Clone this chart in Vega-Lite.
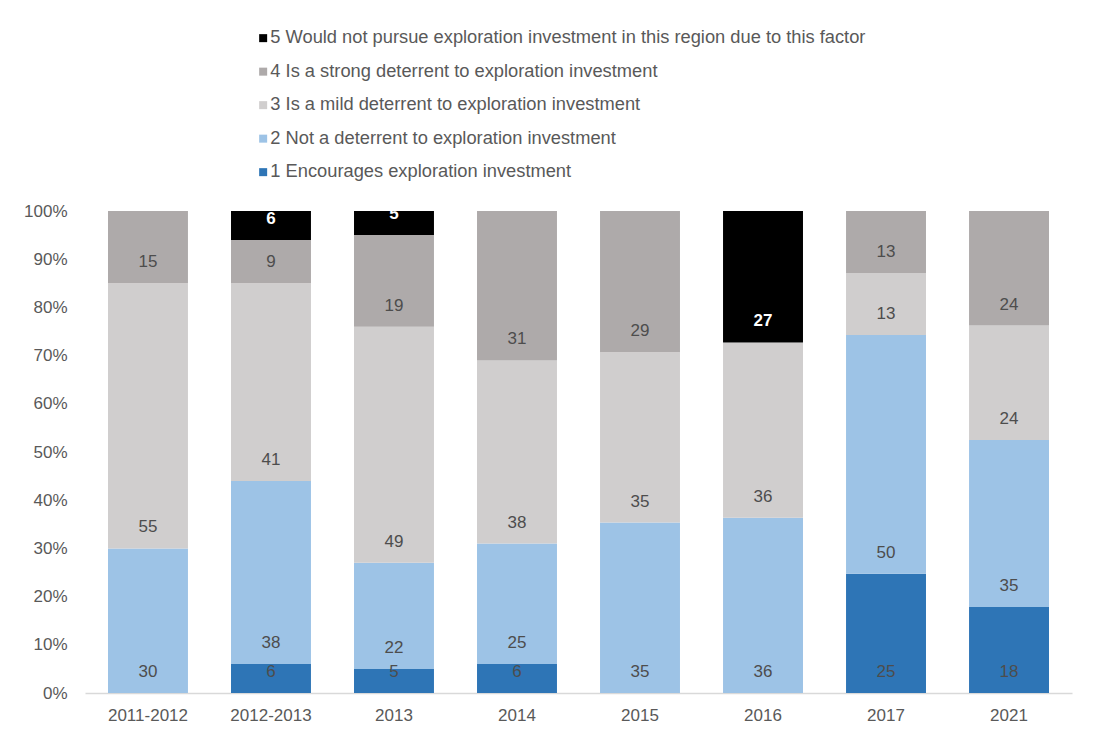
{
  "$schema": "https://vega.github.io/schema/vega-lite/v6.json",
  "width": 987,
  "height": 482,
  "autosize": {"type": "none"},
  "padding": {"left": 85, "top": 211, "right": 35, "bottom": 40},
  "background": "white",
  "config": {"view": {"stroke": null}, "font": "Liberation Sans"},
  "data": {"values": [
    {"year": "2011-2012", "category": "2 Not a deterrent to exploration investment", "value": 30},
    {"year": "2011-2012", "category": "3 Is a mild deterrent to exploration investment", "value": 55},
    {"year": "2011-2012", "category": "4 Is a strong deterrent to exploration investment", "value": 15},
    {"year": "2012-2013", "category": "1 Encourages exploration investment", "value": 6},
    {"year": "2012-2013", "category": "2 Not a deterrent to exploration investment", "value": 38},
    {"year": "2012-2013", "category": "3 Is a mild deterrent to exploration investment", "value": 41},
    {"year": "2012-2013", "category": "4 Is a strong deterrent to exploration investment", "value": 9},
    {"year": "2012-2013", "category": "5 Would not pursue exploration investment in this region due to this factor", "value": 6},
    {"year": "2013", "category": "1 Encourages exploration investment", "value": 5},
    {"year": "2013", "category": "2 Not a deterrent to exploration investment", "value": 22},
    {"year": "2013", "category": "3 Is a mild deterrent to exploration investment", "value": 49},
    {"year": "2013", "category": "4 Is a strong deterrent to exploration investment", "value": 19},
    {"year": "2013", "category": "5 Would not pursue exploration investment in this region due to this factor", "value": 5},
    {"year": "2014", "category": "1 Encourages exploration investment", "value": 6},
    {"year": "2014", "category": "2 Not a deterrent to exploration investment", "value": 25},
    {"year": "2014", "category": "3 Is a mild deterrent to exploration investment", "value": 38},
    {"year": "2014", "category": "4 Is a strong deterrent to exploration investment", "value": 31},
    {"year": "2015", "category": "2 Not a deterrent to exploration investment", "value": 35},
    {"year": "2015", "category": "3 Is a mild deterrent to exploration investment", "value": 35},
    {"year": "2015", "category": "4 Is a strong deterrent to exploration investment", "value": 29},
    {"year": "2016", "category": "2 Not a deterrent to exploration investment", "value": 36},
    {"year": "2016", "category": "3 Is a mild deterrent to exploration investment", "value": 36},
    {"year": "2016", "category": "5 Would not pursue exploration investment in this region due to this factor", "value": 27},
    {"year": "2017", "category": "1 Encourages exploration investment", "value": 25},
    {"year": "2017", "category": "2 Not a deterrent to exploration investment", "value": 50},
    {"year": "2017", "category": "3 Is a mild deterrent to exploration investment", "value": 13},
    {"year": "2017", "category": "4 Is a strong deterrent to exploration investment", "value": 13},
    {"year": "2021", "category": "1 Encourages exploration investment", "value": 18},
    {"year": "2021", "category": "2 Not a deterrent to exploration investment", "value": 35},
    {"year": "2021", "category": "3 Is a mild deterrent to exploration investment", "value": 24},
    {"year": "2021", "category": "4 Is a strong deterrent to exploration investment", "value": 24}
  ]},
  "transform": [
    {"stack": "value", "groupby": ["year"], "sort": [{"field": "category", "order": "ascending"}], "as": ["y0", "y1"], "offset": "normalize"}
  ],
  "encoding": {
    "x": {
      "field": "year", "type": "nominal",
      "sort": ["2011-2012", "2012-2013", "2013", "2014", "2015", "2016", "2017", "2021"],
      "scale": {"paddingInner": 0.35, "paddingOuter": 0.187},
      "axis": {"title": null, "labelAngle": 0, "ticks": false, "domainColor": "#d9d9d9", "domainWidth": 1.5, "labelFontSize": 17, "labelColor": "#595959", "labelPadding": 14}
    }
  },
  "layer": [
    {
      "mark": {"type": "bar"},
      "encoding": {
        "y": {
          "field": "y0", "type": "quantitative",
          "scale": {"domain": [0, 1], "nice": false},
          "axis": {"title": null, "format": ".0%", "values": [0, 0.1, 0.2, 0.3, 0.4, 0.5, 0.6, 0.7, 0.8, 0.9, 1], "grid": false, "domain": false, "ticks": false, "labelFontSize": 17, "labelColor": "#595959", "labelPadding": 18}
        },
        "y2": {"field": "y1"},
        "color": {
          "field": "category", "type": "nominal",
          "scale": {
            "domain": [
              "5 Would not pursue exploration investment in this region due to this factor",
              "4 Is a strong deterrent to exploration investment",
              "3 Is a mild deterrent to exploration investment",
              "2 Not a deterrent to exploration investment",
              "1 Encourages exploration investment"
            ],
            "range": ["#000000", "#aeaaaa", "#d0cece", "#9dc3e6", "#2e75b6"]
          },
          "legend": {
            "title": null, "orient": "none", "legendX": 169, "legendY": -182,
            "direction": "vertical", "symbolType": "square", "symbolSize": 64,
            "symbolStrokeWidth": 0, "labelFontSize": 18.3, "labelColor": "#595959",
            "rowPadding": 14.5, "labelOffset": -2, "padding": 0, "labelLimit": 900
          }
        }
      }
    },
    {
      "transform": [{"filter": "datum.category[0] != '5'"}],
      "mark": {"type": "text", "clip": true, "baseline": "middle", "dy": -21, "fontSize": 17, "color": "#4d4d4d"},
      "encoding": {
        "y": {"field": "y0", "type": "quantitative"},
        "text": {"field": "value", "type": "quantitative"}
      }
    },
    {
      "transform": [{"filter": "datum.category[0] == '5'"}],
      "mark": {"type": "text", "clip": true, "baseline": "middle", "dy": -21, "fontSize": 17, "fontWeight": "bold", "color": "white"},
      "encoding": {
        "y": {"field": "y0", "type": "quantitative"},
        "text": {"field": "value", "type": "quantitative"}
      }
    }
  ]
}
